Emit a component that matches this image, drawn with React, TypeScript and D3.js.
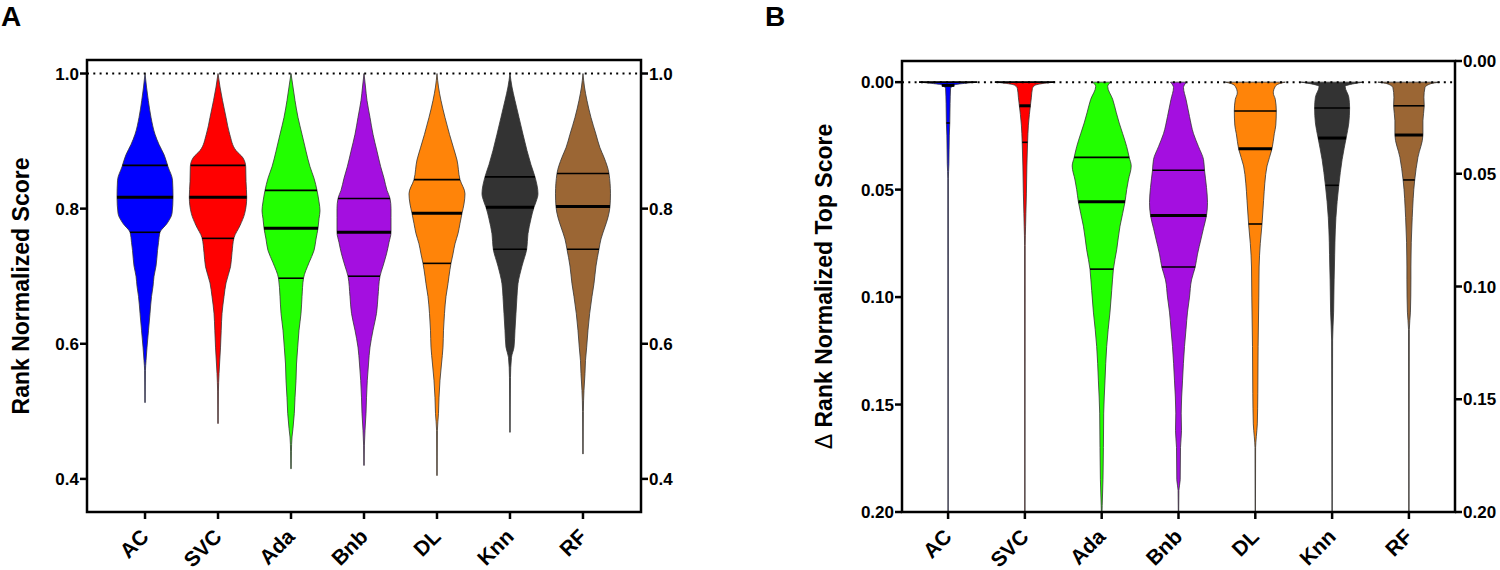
import React from "react";
import * as d3 from "d3";

type Profile = [number, number][];

// ---------- data ----------
const categories = ["AC", "SVC", "Ada", "Bnb", "DL", "Knn", "RF"];
const colors = ["#0000ff", "#ff0000", "#22ff00", "#a40fe0", "#ff8409", "#333333", "#9b6634"];

const aTicks = [0.4, 0.6, 0.8, 1.0];
const bTicks = [0, 0.05, 0.1, 0.15, 0.2];
const bRightTicks = [0, 0.05, 0.1, 0.15, 0.2];

// [q1, median, q3]
const aQuartiles = [
  [0.765, 0.817, 0.864],
  [0.756, 0.817, 0.864],
  [0.697, 0.771, 0.827],
  [0.7, 0.765, 0.815],
  [0.719, 0.793, 0.843],
  [0.74, 0.802, 0.847],
  [0.74, 0.803, 0.852],
];
const bQuartiles = [
  [0.0, 0.0015, 0.019],
  [0.0, 0.011, 0.028],
  [0.035, 0.0557, 0.087],
  [0.041, 0.062, 0.086],
  [0.0134, 0.031, 0.066],
  [0.012, 0.026, 0.048],
  [0.011, 0.0246, 0.0455],
];

// density profiles: [value, relative density]
const aProfiles: Profile[] = [
  [[1.0, 0], [0.98, 1.5], [0.96, 3.3], [0.935, 6], [0.91, 10], [0.895, 14], [0.88, 19], [0.862, 23], [0.842, 27.5], [0.817, 28], [0.793, 27], [0.778, 22], [0.765, 15], [0.75, 13.5], [0.738, 12.5], [0.715, 11], [0.7, 9], [0.685, 8], [0.67, 6.5], [0.645, 5], [0.62, 3.5], [0.595, 2], [0.575, 1], [0.56, 0.4], [0.513, 0.2]],
  [[1.0, 0], [0.98, 2], [0.96, 4.5], [0.935, 8], [0.91, 11.7], [0.886, 18], [0.875, 25], [0.862, 27.7], [0.84, 28], [0.817, 28.7], [0.793, 26.7], [0.775, 22], [0.757, 16], [0.735, 14], [0.714, 12.5], [0.69, 8], [0.67, 6], [0.645, 4], [0.62, 3.2], [0.595, 2.5], [0.556, 1], [0.53, 0.4], [0.482, 0.2]],
  [[1.0, 0], [0.98, 2], [0.96, 4], [0.935, 7], [0.91, 11], [0.885, 15], [0.862, 19], [0.845, 23], [0.827, 26], [0.81, 28], [0.797, 29], [0.785, 28], [0.771, 27], [0.755, 25], [0.738, 23], [0.72, 18], [0.697, 12.5], [0.67, 11], [0.645, 10], [0.62, 8], [0.595, 6.7], [0.57, 5.5], [0.546, 5], [0.52, 4], [0.497, 3.3], [0.475, 2], [0.462, 1], [0.44, 0.4], [0.415, 0.2]],
  [[1.0, 0], [0.98, 1.5], [0.96, 3], [0.935, 6], [0.91, 9], [0.885, 13], [0.862, 16.7], [0.845, 20], [0.827, 23], [0.815, 26], [0.8, 27], [0.787, 27], [0.765, 27], [0.75, 25], [0.733, 22.5], [0.715, 19], [0.7, 16], [0.67, 14], [0.645, 12.5], [0.62, 9], [0.595, 6], [0.57, 4.5], [0.546, 3.3], [0.52, 2.5], [0.497, 2], [0.472, 1], [0.45, 0.4], [0.42, 0.2]],
  [[1.0, 0], [0.98, 1.5], [0.96, 4], [0.935, 8], [0.91, 12.5], [0.89, 16.5], [0.872, 20], [0.843, 23], [0.822, 28], [0.807, 27], [0.793, 25], [0.778, 23], [0.763, 21], [0.748, 18], [0.733, 16], [0.719, 14], [0.7, 12], [0.689, 11], [0.67, 9], [0.645, 7.5], [0.62, 6.5], [0.595, 6], [0.57, 4.5], [0.546, 3], [0.52, 2], [0.497, 1.5], [0.472, 0.4], [0.405, 0.2]],
  [[1.0, 0], [0.98, 2], [0.96, 5], [0.935, 9], [0.91, 13], [0.886, 17], [0.865, 21], [0.847, 25], [0.822, 28], [0.81, 26], [0.802, 24], [0.785, 21], [0.763, 18], [0.74, 16.7], [0.715, 12], [0.689, 8], [0.67, 7], [0.645, 6], [0.62, 5], [0.595, 4], [0.58, 1.5], [0.55, 0.5], [0.469, 0.2]],
  [[1.0, 0], [0.98, 1.5], [0.96, 4], [0.935, 8], [0.91, 13], [0.89, 17], [0.876, 21], [0.852, 26], [0.822, 27.5], [0.803, 27], [0.787, 25], [0.773, 22], [0.755, 18], [0.74, 16], [0.715, 13], [0.689, 11], [0.67, 9], [0.645, 6.7], [0.62, 5], [0.595, 3.7], [0.575, 2.5], [0.556, 2], [0.531, 1], [0.5, 0.4], [0.437, 0.2]],
];

const bProfiles: Profile[] = [
  [[0, 29], [0.0005, 18], [0.0012, 7], [0.003, 2.5], [0.01, 2], [0.019, 1.7], [0.025, 1.2], [0.038, 0.8], [0.045, 0.3], [0.2, 0.15]],
  [[0, 30], [0.0005, 20], [0.0015, 10], [0.003, 7.5], [0.007, 6.5], [0.011, 5.5], [0.015, 4.5], [0.02, 3.5], [0.028, 2.7], [0.039, 2], [0.052, 1.5], [0.061, 1], [0.067, 0.7], [0.076, 0.3], [0.2, 0.15]],
  [[0, 9], [0.002, 6], [0.008, 11], [0.014, 14.5], [0.019, 17.5], [0.024, 21], [0.03, 25], [0.035, 27.5], [0.039, 29.5], [0.0455, 26.7], [0.05, 25], [0.0557, 23.3], [0.061, 21], [0.067, 18.3], [0.078, 15], [0.087, 11.7], [0.092, 10.8], [0.097, 10], [0.107, 8.3], [0.115, 6.5], [0.123, 5], [0.139, 3.3], [0.154, 2], [0.17, 1.7], [0.185, 1.3], [0.197, 0.5], [0.2, 0.3]],
  [[0, 8], [0.0025, 5], [0.008, 7.5], [0.016, 11], [0.024, 15], [0.03, 20], [0.036, 25], [0.041, 26], [0.049, 28], [0.056, 29], [0.062, 28], [0.068, 25], [0.073, 22.5], [0.08, 19], [0.086, 16.7], [0.092, 13], [0.1, 11], [0.107, 9], [0.115, 7.5], [0.123, 6], [0.139, 4], [0.154, 2.7], [0.162, 3], [0.17, 2], [0.185, 1.7], [0.19, 0.4], [0.2, 0.2]],
  [[0, 30], [0.0007, 24], [0.002, 20], [0.005, 18], [0.008, 20], [0.0134, 21], [0.02, 20.5], [0.024, 19], [0.031, 16.7], [0.039, 11.7], [0.047, 9.5], [0.055, 8.3], [0.066, 6.7], [0.075, 5], [0.086, 3.8], [0.1, 3.5], [0.123, 2.8], [0.145, 2.5], [0.159, 2], [0.165, 1], [0.17, 0.3], [0.2, 0.15]],
  [[0, 31], [0.0007, 22], [0.002, 13], [0.007, 16.7], [0.012, 17.5], [0.019, 16.7], [0.026, 14], [0.036, 10], [0.048, 6.7], [0.063, 3.8], [0.086, 2.3], [0.092, 2], [0.107, 1.5], [0.12, 0.5], [0.2, 0.15]],
  [[0, 31], [0.0007, 22], [0.0026, 16], [0.007, 15], [0.011, 15.3], [0.018, 14], [0.0246, 14], [0.035, 9], [0.0455, 5.8], [0.063, 3.3], [0.086, 2], [0.092, 2], [0.107, 1.5], [0.115, 0.4], [0.2, 0.15]],
];

// ---------- rendering ----------
const FONT = "'Liberation Sans', Arial, Helvetica, sans-serif";

type PanelProps = {
  left: number;
  right: number;
  top: number;
  bottom: number;
  yDomain: [number, number];
  inverted: boolean;
  padding: number;
  profiles: Profile[];
  quartiles: number[][];
  refValue: number;
  ticks: number[];
  fmt: (v: number) => string;
  rightDomain: [number, number];
  rightTicks: number[];
  letter: string;
  letterX: number;
  title: React.ReactNode;
  titleX: number;
};

function Panel(p: PanelProps) {
  const y = d3
    .scaleLinear()
    .domain(p.yDomain)
    .range(p.inverted ? [p.top, p.bottom] : [p.bottom, p.top]);
  const yR = d3
    .scaleLinear()
    .domain(p.rightDomain)
    .range(p.inverted ? [p.top, p.bottom] : [p.bottom, p.top]);
  const x = d3.scalePoint<string>().domain(categories).range([p.left, p.right]).padding(p.padding);
  const w = d3.scaleLinear().domain([0, 30]).range([0, 30]);
  const tickLen = 7;
  const midY = (p.top + p.bottom) / 2;

  return (
    <g>
      <text x={p.letterX} y={26} fontFamily={FONT} fontWeight="bold" fontSize={28}>
        {p.letter}
      </text>
      <text
        transform={`translate(${p.titleX},${midY}) rotate(-90)`}
        textAnchor="middle"
        fontFamily={FONT}
        fontWeight="bold"
        fontSize={23}
      >
        {p.title}
      </text>

      {categories.map((c, i) => {
        const cx = x(c)!;
        const prof = p.profiles[i];
        const area = d3
          .area<[number, number]>()
          .y((d) => y(d[0]))
          .x0((d) => cx - w(d[1]))
          .x1((d) => cx + w(d[1]))
          .curve(d3.curveMonotoneY);
        const interp = d3
          .scaleLinear()
          .domain(prof.map((d) => d[0]))
          .range(prof.map((d) => d[1]))
          .clamp(true);
        return (
          <g key={c}>
            <path d={area(prof) ?? ""} fill={colors[i]} stroke="#333" strokeWidth={0.8} strokeLinejoin="round" />
            {p.quartiles[i].map((q, k) => {
              const hw = w(interp(q));
              return (
                <line
                  key={k}
                  x1={cx - hw}
                  x2={cx + hw}
                  y1={y(q)}
                  y2={y(q)}
                  stroke="#000"
                  strokeWidth={k === 1 ? 3 : 1.6}
                />
              );
            })}
          </g>
        );
      })}

      <line
        x1={p.left}
        x2={p.right}
        y1={y(p.refValue)}
        y2={y(p.refValue)}
        stroke="#000"
        strokeWidth={2}
        strokeDasharray="2,4.3"
      />

      <rect
        x={p.left}
        y={p.top}
        width={p.right - p.left}
        height={p.bottom - p.top}
        fill="none"
        stroke="#000"
        strokeWidth={2.5}
      />

      {/* left axis */}
      {p.ticks.map((t) => (
        <g key={"l" + t}>
          <line x1={p.left - tickLen} x2={p.left} y1={y(t)} y2={y(t)} stroke="#000" strokeWidth={2.5} />
          <text
            x={p.left - tickLen - 1}
            y={y(t)}
            dy="0.36em"
            textAnchor="end"
            fontFamily={FONT}
            fontWeight="bold"
            fontSize={17}
          >
            {p.fmt(t)}
          </text>
        </g>
      ))}
      {/* right axis */}
      {p.rightTicks.map((t) => (
        <g key={"r" + t}>
          <line x1={p.right} x2={p.right + tickLen} y1={yR(t)} y2={yR(t)} stroke="#000" strokeWidth={2.5} />
          <text
            x={p.right + tickLen + 1}
            y={yR(t)}
            dy="0.36em"
            textAnchor="start"
            fontFamily={FONT}
            fontWeight="bold"
            fontSize={17}
          >
            {p.fmt(t)}
          </text>
        </g>
      ))}
      {/* bottom axis */}
      {categories.map((c) => (
        <g key={"x" + c}>
          <line x1={x(c)} x2={x(c)} y1={p.bottom} y2={p.bottom + tickLen} stroke="#000" strokeWidth={2.5} />
          <text
            transform={`translate(${x(c)! + 5},${p.bottom + 26}) rotate(-45)`}
            textAnchor="end"
            fontFamily={FONT}
            fontWeight="bold"
            fontSize={21}
          >
            {c}
          </text>
        </g>
      ))}
    </g>
  );
}

export default function App() {
  return (
    <svg
      width={1500}
      height={570}
      style={{ position: "absolute", left: 0, top: 0, background: "#fff" }}
    >
      <Panel
        left={87}
        right={641}
        top={60}
        bottom={512}
        yDomain={[0.351, 1.02]}
        inverted={false}
        padding={0.795}
        profiles={aProfiles}
        quartiles={aQuartiles}
        refValue={1.0}
        ticks={aTicks}
        fmt={d3.format(".1f")}
        rightDomain={[0.351, 1.02]}
        rightTicks={aTicks}
        letter="A"
        letterX={1}
        title="Rank Normalized Score"
        titleX={29}
      />
      <Panel
        left={902}
        right={1455}
        top={61}
        bottom={512}
        yDomain={[-0.00984, 0.2]}
        inverted={true}
        padding={0.6}
        profiles={bProfiles}
        quartiles={bQuartiles}
        refValue={0}
        ticks={bTicks}
        fmt={d3.format(".2f")}
        rightDomain={[0, 0.2]}
        rightTicks={bRightTicks}
        letter="B"
        letterX={765}
        title={
          <>
            <tspan fontWeight="normal">Δ</tspan> Rank Normalized Top Score
          </>
        }
        titleX={832}
      />
    </svg>
  );
}
